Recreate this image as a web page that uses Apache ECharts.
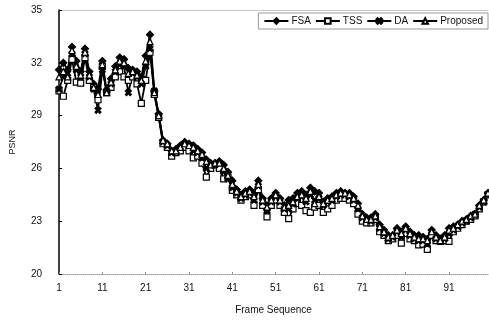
<!DOCTYPE html>
<html>
<head>
<meta charset="utf-8">
<script src="https://cdn.jsdelivr.net/npm/echarts@6/dist/echarts.min.js"></script>
<style>
  html, body { margin: 0; padding: 0; background: #fff; }
  #chart { width: 489px; height: 320px; }
</style>
</head>
<body>
<div id="chart"></div>
<script>
// frame numbers 1..100
var frames = [];
for (var i = 1; i <= 100; i++) frames.push(String(i));

var fsa = [31.6, 32.0, 31.6, 32.9, 32.1, 31.5, 32.8, 31.5, 30.8, 30.5,
  32.1, 30.4, 31.1, 31.8, 32.3, 32.2, 31.7, 31.6, 31.5, 31.2,
  32.4, 33.6, 30.4, 29.1, 27.6, 27.4, 27.0, 27.1, 27.3, 27.5,
  27.4, 27.3, 27.1, 26.9, 26.5, 26.3, 26.3, 26.4, 26.2, 25.8,
  25.3, 24.8, 24.5, 24.7, 24.8, 24.6, 25.3, 24.3, 23.9, 24.3,
  24.6, 24.3, 23.9, 24.2, 24.3, 24.6, 24.7, 24.5, 24.9, 24.7,
  24.6, 24.1, 24.3, 24.4, 24.6, 24.7, 24.6, 24.6, 24.4, 24.0,
  23.4, 23.2, 23.2, 23.4, 22.8, 22.5, 22.2, 22.2, 22.6, 22.4,
  22.7, 22.4, 22.2, 22.2, 22.1, 22.0, 22.5, 22.2, 22.0, 22.2,
  22.6, 22.7, 22.8, 23.0, 23.1, 23.3, 23.4, 23.9, 24.2, 24.6];

var tss = [30.4, 30.1, 31.0, 32.2, 30.9, 30.85, 32.3, 31.0, 30.6, 29.9,
  31.8, 30.3, 30.6, 31.2, 31.5, 31.2, 31.0, 31.2, 30.8, 29.7,
  31.0, 32.6, 30.2, 28.9, 27.4, 27.2, 26.7, 26.9, 27.0, 27.2,
  27.0, 26.6, 26.7, 26.3, 25.5, 26.0, 26.2, 26.0, 25.4, 25.5,
  24.75, 24.5, 24.2, 24.4, 24.5, 23.9, 24.8, 23.9, 23.25, 23.9,
  24.2, 23.9, 23.5, 23.15, 23.7, 24.0, 23.9, 23.6, 23.5, 23.8,
  23.9, 23.5, 23.7, 23.9, 24.2, 24.3, 24.3, 24.2, 24.0, 23.4,
  23.0, 22.9, 22.9, 23.1, 22.4, 22.2, 21.9, 22.0, 22.2, 21.75,
  22.3, 22.0, 21.9, 21.65, 21.7, 21.4, 22.2, 21.9, 21.85, 21.9,
  21.85, 22.4, 22.6, 22.8, 23.0, 23.1, 23.3, 23.7, 24.1, 24.5];

var da = [30.5, 31.2, 31.4, 32.5, 31.6, 31.2, 32.5, 31.2, 30.5, 29.3,
  31.6, 30.4, 30.8, 31.5, 31.9, 31.8, 30.3, 31.4, 31.2, 30.8,
  31.8, 32.8, 30.4, 29.0, 27.5, 27.3, 26.9, 27.0, 27.2, 27.4,
  27.3, 27.0, 26.9, 26.6, 26.0, 26.2, 26.2, 26.3, 25.8, 25.4,
  24.9, 24.6, 24.3, 24.5, 24.6, 24.2, 25.0, 24.1, 23.6, 24.1,
  24.4, 24.1, 23.7, 23.7, 24.0, 24.3, 24.4, 24.1, 24.5, 24.2,
  24.3, 23.9, 24.1, 24.2, 24.4, 24.5, 24.5, 24.4, 24.2, 23.7,
  23.2, 23.1, 23.0, 23.2, 22.6, 22.3, 22.0, 22.1, 22.4, 22.1,
  22.5, 22.2, 22.0, 21.9, 21.9, 21.7, 22.4, 22.0, 21.9, 22.0,
  22.3, 22.5, 22.7, 22.9, 23.0, 23.2, 23.4, 23.8, 24.1, 24.5];

var proposed = [31.2, 31.5, 31.2, 32.7, 31.8, 31.3, 32.6, 31.3, 30.6, 30.2,
  31.9, 30.3, 30.9, 31.6, 32.1, 32.0, 31.4, 31.5, 31.3, 31.0,
  32.1, 33.2, 30.3, 29.0, 27.6, 27.4, 27.0, 27.0, 27.2, 27.4,
  27.3, 27.2, 27.0, 26.8, 26.4, 26.2, 26.3, 26.3, 26.0, 25.6,
  25.1, 24.7, 24.4, 24.6, 24.7, 24.4, 25.1, 24.2, 23.8, 24.2,
  24.5, 24.2, 23.8, 23.9, 24.1, 24.4, 24.5, 24.3, 24.7, 24.0,
  24.4, 24.0, 24.2, 24.3, 24.5, 24.6, 24.6, 24.5, 24.3, 23.9,
  23.3, 23.1, 23.1, 23.3, 22.7, 22.4, 22.1, 22.2, 22.5, 22.3,
  22.6, 22.3, 22.1, 22.0, 22.0, 21.9, 22.4, 22.1, 21.9, 22.1,
  22.5, 22.6, 22.8, 23.0, 23.1, 23.3, 23.4, 23.9, 24.2, 24.6];

var seriesNames = ["FSA", "TSS", "DA", "Proposed"];

var crossPath = "path://M0,2L2,0L5,3L8,0L10,2L7,5L10,8L8,10L5,7L2,10L0,8L3,5Z";
var font = "'Liberation Sans', Arial, sans-serif";

function makeLine(name, data, symbol, size, fill) {
  return {
    name: name,
    type: "line",
    data: data,
    symbol: symbol,
    symbolSize: size,
    showSymbol: true,
    showAllSymbol: true,
    animation: false,
    lineStyle: { color: "#000", width: 1.8 },
    itemStyle: { color: fill, borderColor: "#000", borderWidth: 1.2 },
  };
}

var chart = echarts.init(document.getElementById("chart"));
chart.setOption({
  backgroundColor: "#fff",
  textStyle: { fontFamily: font },
  grid: { left: 54, right: 1, top: 10, bottom: 42 },
  legend: {
    right: 1,
    top: 13,
    padding: [3, 5],
    itemGap: 4,
    itemWidth: 24,
    itemHeight: 7,
    borderColor: "#999",
    borderWidth: 1,
    textStyle: { color: "#111", fontSize: 10, fontFamily: font, padding: [0, 0, 0, -2] },
    data: seriesNames,
  },
  xAxis: [
    {
      type: "category",
      data: frames,
      boundaryGap: false,
      name: "Frame Sequence",
      nameLocation: "middle",
      nameGap: 31,
      nameTextStyle: { color: "#111", fontSize: 10, fontFamily: font },
      axisLine: { lineStyle: { color: "#999", type: "dotted", width: 1 } },
      axisTick: { show: true, interval: 9, inside: true, length: 2, lineStyle: { color: "#888" } },
      axisLabel: { interval: 9, color: "#111", fontSize: 10, margin: 9, fontFamily: font },
      splitLine: { show: false },
    },
    {
      type: "category",
      data: frames,
      boundaryGap: false,
      position: "top",
      axisLine: { lineStyle: { color: "#bbb", type: "dotted", width: 1 } },
      axisTick: { show: false },
      axisLabel: { show: false },
    },
  ],
  yAxis: {
    type: "value",
    min: 20,
    max: 35,
    interval: 3,
    name: "PSNR",
    nameLocation: "middle",
    nameGap: 42,
    nameTextStyle: { color: "#111", fontSize: 9, fontFamily: font },
    axisLine: { show: true, lineStyle: { color: "#000", width: 1.5 } },
    axisTick: { show: true, inside: true, length: 3, lineStyle: { color: "#000" } },
    axisLabel: { color: "#111", fontSize: 10, margin: 17, fontFamily: font },
    splitLine: { show: false },
  },
  series: [
    makeLine("FSA", fsa, "diamond", 7, "#000"),
    makeLine("TSS", tss, "rect", 6, "#fff"),
    makeLine("DA", da, crossPath, 6, "#000"),
    makeLine("Proposed", proposed, "triangle", 6, "#fff"),
  ],
});
</script>
</body>
</html>
